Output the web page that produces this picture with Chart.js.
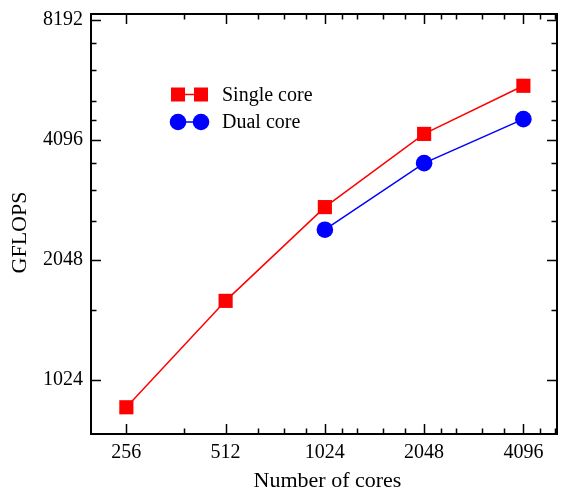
<!DOCTYPE html>
<html>
<head>
<meta charset="utf-8">
<script src="https://cdn.jsdelivr.net/npm/chart.js@4"></script>
<style>
  html, body { margin: 0; padding: 0; background: #fff; }
  #wrap { width: 565px; height: 493px; }
</style>
</head>
<body>
<div id="wrap"><canvas id="gflopsChart" width="565" height="493"></canvas></div>
<script>
// cores on the x axis
const cores = [256, 512, 1024, 2048, 4096];
const singleCore = [873, 1615, 2777, 4240, 5600];
const dualCore = [null, null, 2437, 3580, 4617];

// tick values (labelled ones + the small in-between marks)
const xLabels = [256, 512, 1024, 2048, 4096];
const xMinor = [384, 640, 768, 896, 1152, 1280, 1536, 1792, 2304, 2560, 3072, 3584, 4608, 5120];
const yLabels = [1024, 2048, 4096, 8192];
const yMinor = [1536, 2560, 3072, 3584, 4608, 5120, 6144, 7168];

const legendItems = ['Single core', 'Dual core'];
const seriesColors = ['#ff0000', '#0000ff'];

const FONT = 'Liberation Serif, Times New Roman, serif';

function toPoints(values) {
    return cores.map((c, i) => ({ x: c, y: values[i] })).filter(p => p.y !== null);
}

// inward tick marks on all four sides + the box, legend and axis titles
const frameTicks = {
    id: 'frameTicks',
    afterDatasetsDraw(chart) {
        const ctx = chart.ctx;
        const a = chart.chartArea;
        const xs = chart.scales.x;
        const ys = chart.scales.y;
        ctx.save();
        ctx.strokeStyle = '#000';
        ctx.lineWidth = 1.5;
        ctx.beginPath();
        xs.ticks.forEach(t => {
            const px = Math.round(xs.getPixelForValue(t.value)) + 0.5;
            const len = xLabels.includes(t.value) ? 10 : 5.5;
            ctx.moveTo(px, a.bottom); ctx.lineTo(px, a.bottom - len);
            ctx.moveTo(px, a.top); ctx.lineTo(px, a.top + len);
        });
        ys.ticks.forEach(t => {
            const py = Math.round(ys.getPixelForValue(t.value)) + 0.5;
            const len = yLabels.includes(t.value) ? 10 : 5.5;
            ctx.moveTo(a.left, py); ctx.lineTo(a.left + len, py);
            ctx.moveTo(a.right, py); ctx.lineTo(a.right - len, py);
        });
        ctx.stroke();
        ctx.lineWidth = 2;
        ctx.strokeRect(a.left, a.top, a.right - a.left, a.bottom - a.top);

        // legend: marker - line - marker, then label
        const rows = [94.5, 122];
        rows.forEach((y, i) => {
            ctx.strokeStyle = seriesColors[i];
            ctx.fillStyle = seriesColors[i];
            ctx.lineWidth = 1.5;
            ctx.beginPath();
            ctx.moveTo(178, y); ctx.lineTo(201, y);
            ctx.stroke();
            [178, 201].forEach(x => {
                ctx.beginPath();
                if (i === 0) {
                    ctx.rect(x - 7, y - 7, 14, 14);
                } else {
                    ctx.arc(x, y, 8.3, 0, Math.PI * 2);
                }
                ctx.fill();
            });
            ctx.fillStyle = '#000';
            ctx.font = '20px ' + FONT;
            ctx.textBaseline = 'middle';
            ctx.textAlign = 'left';
            ctx.fillText(legendItems[i], 222, y + 1);
        });

        // axis titles
        ctx.fillStyle = '#000';
        ctx.font = '22px ' + FONT;
        ctx.textAlign = 'center';
        ctx.textBaseline = 'alphabetic';
        ctx.fillText('Number of cores', 327.5, 487);
        ctx.translate(26, 232.5);
        ctx.rotate(-Math.PI / 2);
        ctx.fillText('GFLOPS', 0, 0);
        ctx.restore();
    }
};

new Chart(document.getElementById('gflopsChart'), {
    type: 'line',
    data: {
        datasets: [{
            label: legendItems[0],
            data: toPoints(singleCore),
            borderColor: seriesColors[0],
            backgroundColor: seriesColors[0],
            borderWidth: 1.5,
            pointStyle: 'rect',
            pointRadius: 10,
            pointBorderWidth: 0,
            fill: false
        }, {
            label: legendItems[1],
            data: toPoints(dualCore),
            borderColor: seriesColors[1],
            backgroundColor: seriesColors[1],
            borderWidth: 1.5,
            pointStyle: 'circle',
            pointRadius: 8.3,
            pointBorderWidth: 0,
            fill: false
        }]
    },
    options: {
        responsive: false,
        animation: false,
        layout: {
            autoPadding: false,
            padding: { top: 14, right: 8, left: 0, bottom: 0 }
        },
        plugins: {
            legend: { display: false },
            tooltip: { enabled: false }
        },
        scales: {
            x: {
                type: 'logarithmic',
                min: 200,
                max: 5180,
                afterBuildTicks: (scale) => {
                    scale.ticks = xLabels.concat(xMinor).sort((a, b) => a - b).map(v => ({ value: v }));
                },
                afterFit: (scale) => {
                    scale.height = 59;
                    scale.paddingLeft = 0;
                    scale.paddingRight = 0;
                },
                grid: { display: false, drawTicks: false },
                border: { display: false },
                ticks: {
                    autoSkip: false,
                    maxRotation: 0,
                    padding: 7,
                    color: '#000',
                    font: { family: FONT, size: 20 },
                    callback: (v) => xLabels.includes(v) ? String(v) : ''
                }
            },
            y: {
                type: 'logarithmic',
                min: 748,
                max: 8480,
                afterBuildTicks: (scale) => {
                    scale.ticks = yLabels.concat(yMinor).sort((a, b) => a - b).map(v => ({ value: v }));
                },
                afterFit: (scale) => {
                    scale.width = 91;
                    scale.paddingTop = 0;
                    scale.paddingBottom = 0;
                },
                grid: { display: false, drawTicks: false },
                border: { display: false },
                ticks: {
                    autoSkip: false,
                    padding: 8,
                    color: '#000',
                    font: { family: FONT, size: 20 },
                    callback: (v) => yLabels.includes(v) ? String(v) : ''
                }
            }
        }
    },
    plugins: [frameTicks]
});
</script>
</body>
</html>
